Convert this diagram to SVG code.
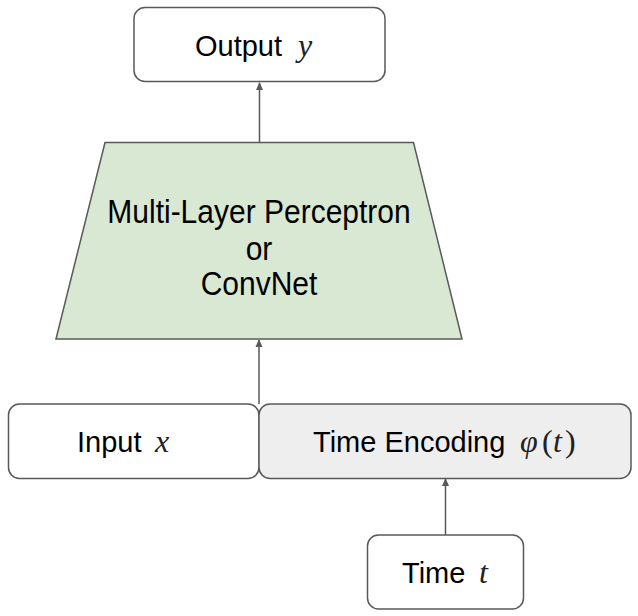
<svg xmlns="http://www.w3.org/2000/svg" width="638" height="616" viewBox="0 0 638 616">
<style>
.box{stroke:#595959;stroke-width:1.5;}
.t{font-family:"Liberation Sans",Arial,sans-serif;font-size:29px;fill:#000;}
.mid{font-family:"Liberation Sans",Arial,sans-serif;font-size:30px;fill:#000;text-anchor:middle;}
.m{font-family:"Liberation Serif","DejaVu Serif",serif;font-style:italic;font-size:32px;fill:#222;}
.u{font-family:"Liberation Serif","DejaVu Serif",serif;font-style:normal;font-size:32px;fill:#222;}
.c{stroke:#595959;stroke-width:1.5;fill:none;}
</style>
<defs>
<marker id="ah" markerWidth="8" markerHeight="8" refX="7" refY="4" orient="auto" markerUnits="userSpaceOnUse">
<path d="M0,0.5 L8,4 L0,7.5 z" fill="#595959"/>
</marker>
</defs>
<rect width="638" height="616" fill="#fff"/>
<g id="connectors">
<line class="c" x1="259.5" y1="142" x2="259.5" y2="83" marker-end="url(#ah)"/>
<line class="c" x1="259" y1="404" x2="259" y2="340" marker-end="url(#ah)"/>
<line class="c" x1="445.5" y1="535" x2="445.5" y2="479" marker-end="url(#ah)"/>
</g>
<g id="output">
<rect class="box" x="134" y="7.5" width="251" height="74" rx="11" fill="#fff"/>
<text class="t" y="56"><tspan x="195">Output</tspan><tspan class="m" x="298">y</tspan></text>
</g>
<g id="mlp">
<polygon class="box" points="105,142.5 413.5,142.5 462,339 56,339" fill="#d9e8d3"/>
<text class="mid" transform="translate(259,223) scale(1,1.08)" x="0" y="0">Multi-Layer Perceptron</text>
<text class="mid" transform="translate(259,260) scale(1,1.08)" x="0" y="0">or</text>
<text class="mid" transform="translate(259,295) scale(1,1.08)" x="0" y="0">ConvNet</text>
</g>
<g id="input">
<rect class="box" x="8.5" y="404" width="250.5" height="74.5" rx="11" fill="#fff"/>
<text class="t" y="452"><tspan x="77">Input</tspan><tspan class="m" x="155">x</tspan></text>
</g>
<g id="timeenc">
<rect class="box" x="259" y="404" width="372" height="74.5" rx="11" fill="#eeeeee"/>
<text class="t" y="452"><tspan x="313">Time Encoding</tspan><tspan class="m" x="520">φ</tspan><tspan class="u" x="542">(</tspan><tspan class="m" x="553">t</tspan><tspan class="u" x="565">)</tspan></text>
</g>
<g id="time">
<rect class="box" x="367.5" y="535" width="156" height="74" rx="11" fill="#fff"/>
<text class="t" y="583"><tspan x="402">Time</tspan><tspan class="m" x="479">t</tspan></text>
</g>
</svg>
